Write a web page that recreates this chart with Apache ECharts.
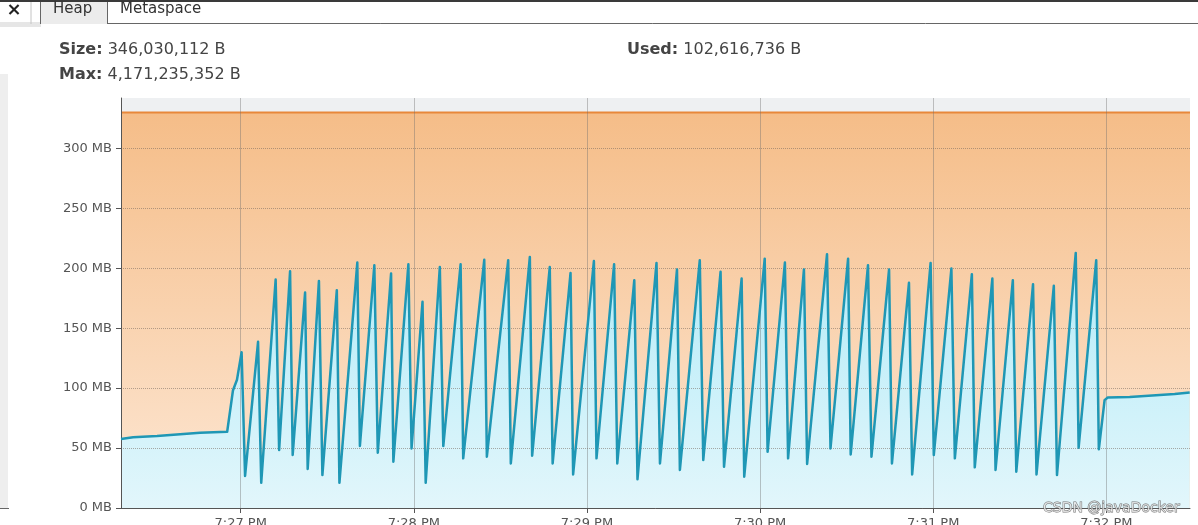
<!DOCTYPE html>
<html>
<head>
<meta charset="utf-8">
<script src="https://cdn.jsdelivr.net/npm/echarts@6/dist/echarts.min.js"></script>
<style>
  html, body { margin: 0; padding: 0; background: #ffffff; }
  #chart { width: 1198px; height: 525px; }
</style>
</head>
<body>
<div id="chart"></div>
<script>
// ---- Data (seconds after 7:26:00 PM, values in MB) ----
const timeSec = [18.5, 22.7, 31.0, 39.0, 45.9, 55.3, 57.3, 58.7, 60.3, 61.5, 66.0, 67.1,
  72.1, 73.3, 77.1, 78.0, 82.3, 83.2, 87.1, 88.3, 93.3, 94.2, 100.4, 101.3, 106.3, 107.5,
  112.1, 112.9, 118.1, 119.2, 123.0, 124.1, 129.0, 130.2, 136.2, 137.1, 144.4, 145.3,
  152.7, 153.6, 160.2, 161.0, 167.1, 168.1, 174.3, 175.2, 182.4, 183.3, 189.4, 190.5,
  196.4, 197.5, 204.1, 205.3, 211.2, 212.2, 219.1, 220.3, 226.3, 227.5, 233.6, 234.5,
  241.6, 242.6, 248.6, 249.7, 255.2, 256.3, 263.2, 264.4, 270.5, 271.4, 277.4, 278.6,
  284.7, 285.7, 291.6, 292.7, 299.1, 300.2, 306.3, 307.5, 313.4, 314.4, 320.5, 321.6,
  327.6, 328.8, 334.6, 335.8, 341.8, 342.9, 349.4, 350.4, 356.5, 357.4,
  359.4, 360.5, 368.1, 378.5, 383.7, 388.9];
const usedMB = [57.5, 59, 60, 61.5, 62.8, 63.6, 98, 107, 130, 26.7, 138.6, 21,
  190.6, 48.3, 197.5, 44.2, 179.7, 32.5, 189.4, 27.5, 181.7, 21, 204.7, 51.7, 202.5, 46.1,
  195.6, 38.6, 203.3, 49.7, 172, 21, 201, 51.7, 203.3, 41.4, 207, 42.8,
  206.7, 37.2, 209.4, 43.6, 201, 37.2, 196, 28, 206, 41.4, 203.3, 37.2,
  190, 23.9, 204.4, 37.2, 199, 31.7, 206.7, 40, 197, 34.4, 191.4, 26.1,
  208, 46.9, 204.7, 41.4, 199, 36.7, 211.7, 49.7, 208, 44.7, 202.5, 42.8,
  199, 37.2, 187.8, 28, 204.4, 44.2, 199.7, 41.4, 195, 33.9, 191.4, 31.7,
  190, 30.3, 186.7, 28, 185.3, 27.5, 212.8, 50.3, 206.7, 49,
  90, 92.2, 92.5, 94.2, 95, 96.4];
const sizeTimes = [18.5, 389];
const sizeMB = [330, 330];
const xTickSec = [60, 120, 180, 240, 300, 360];
const xTickLabels = ['7:27 PM', '7:28 PM', '7:29 PM', '7:30 PM', '7:31 PM', '7:32 PM'];
const yTickMB = [0, 50, 100, 150, 200, 250, 300];
const tabLabels = ['Heap', 'Metaspace'];
const sizeText = '346,030,112 B';
const maxText = '4,171,235,352 B';
const usedText = '102,616,736 B';

const usedData = timeSec.map((t, i) => [t, usedMB[i]]);
const sizeData = sizeTimes.map((t, i) => [t, sizeMB[i]]);
const FONT = '"DejaVu Sans", sans-serif';

const chart = echarts.init(document.getElementById('chart'));
chart.setOption({
  animation: false,
  backgroundColor: '#ffffff',
  grid: { left: 121, right: 8, top: 98, bottom: 17, containLabel: false, outerBoundsMode: 'none',
    show: true, backgroundColor: '#eef0f2', borderWidth: 0 },
  xAxis: {
    type: 'value', min: 18.5, max: 389, z: 3,
    axisLine: { show: true, lineStyle: { color: '#555', width: 1 } },
    axisTick: { show: true, customValues: xTickSec, length: 5, lineStyle: { color: '#555' } },
    axisLabel: {
      customValues: xTickSec, margin: 9, color: '#555', fontSize: 13, fontFamily: FONT,
      formatter: v => xTickLabels[xTickSec.indexOf(Math.round(v))] || ''
    },
    splitLine: { show: true, lineStyle: { color: 'rgba(110,110,110,0.4)', width: 1 } }
  },
  yAxis: {
    type: 'value', min: 0, max: 342, z: 3,
    axisLine: { show: true, lineStyle: { color: '#555', width: 1 } },
    axisTick: { show: true, customValues: yTickMB, length: 5, lineStyle: { color: '#555' } },
    axisLabel: { customValues: yTickMB, margin: 9, color: '#555', fontSize: 13, fontFamily: FONT, formatter: '{value} MB' },
    splitLine: { show: true, lineStyle: { color: 'rgba(120,105,95,0.55)', type: 'dotted', width: 1 } }
  },
  series: [
    {
      name: 'Size', type: 'line', data: sizeData, symbol: 'none', z: 2,
      lineStyle: { color: '#e8883a', width: 2 },
      areaStyle: { opacity: 1, color: new echarts.graphic.LinearGradient(0, 0, 0, 1, [
        { offset: 0, color: '#f5bd88' }, { offset: 1, color: '#fde7d4' }]) }
    },
    {
      name: 'Used area', type: 'line', data: usedData, symbol: 'none', z: 2,
      lineStyle: { width: 0 },
      areaStyle: { opacity: 1, color: new echarts.graphic.LinearGradient(0, 0, 0, 1, [
        { offset: 0, color: '#b3ebf8' }, { offset: 1, color: '#e2f6fb' }]) }
    },
    {
      name: 'Used', type: 'line', data: usedData, symbol: 'none', z: 4,
      lineStyle: { color: '#1f97b5', width: 2.5, join: 'round' }
    }
  ],
  graphic: [
    { type: 'rect', shape: { x: 0, y: 0, width: 1198, height: 2 }, style: { fill: '#3a3a3a' } },
    { type: 'rect', shape: { x: 41, y: 2, width: 66, height: 22 }, style: { fill: '#ececec' } },
    { type: 'rect', shape: { x: 0, y: 22, width: 41, height: 5 }, style: { fill: '#e6e6e6' } },
    { type: 'line', shape: { x1: 31, y1: 2, x2: 31, y2: 24 }, style: { stroke: '#c4c4c4', lineWidth: 1 } },
    { type: 'line', shape: { x1: 40.5, y1: 2, x2: 40.5, y2: 24 }, style: { stroke: '#666', lineWidth: 1 } },
    { type: 'line', shape: { x1: 107.5, y1: 2, x2: 107.5, y2: 24 }, style: { stroke: '#666', lineWidth: 1 } },
    { type: 'line', shape: { x1: 107.5, y1: 23.5, x2: 1198, y2: 23.5 }, style: { stroke: '#666', lineWidth: 1 } },
    { type: 'text', x: 14, y: 10, style: { text: '×', font: 'bold 18px ' + FONT, fill: '#222', align: 'center', verticalAlign: 'middle' } },
    { type: 'text', x: 53, y: 9, style: { text: tabLabels[0], font: '15px ' + FONT, fill: '#333', verticalAlign: 'middle' } },
    { type: 'text', x: 120, y: 9, style: { text: tabLabels[1], font: '15px ' + FONT, fill: '#333', verticalAlign: 'middle' } },
    { type: 'text', x: 59, y: 50, style: { text: '{b|Size:} ' + sizeText, font: '16px ' + FONT, fill: '#444', verticalAlign: 'middle',
      rich: { b: { fontWeight: 'bold', fontSize: 16, fontFamily: FONT, fill: '#444' } } } },
    { type: 'text', x: 59, y: 75, style: { text: '{b|Max:} ' + maxText, font: '16px ' + FONT, fill: '#444', verticalAlign: 'middle',
      rich: { b: { fontWeight: 'bold', fontSize: 16, fontFamily: FONT, fill: '#444' } } } },
    { type: 'text', x: 627, y: 50, style: { text: '{b|Used:} ' + usedText, font: '16px ' + FONT, fill: '#444', verticalAlign: 'middle',
      rich: { b: { fontWeight: 'bold', fontSize: 16, fontFamily: FONT, fill: '#444' } } } },
    { type: 'rect', shape: { x: 0, y: 74, width: 8, height: 434 }, style: { fill: '#eeeeee' } },
    { type: 'line', shape: { x1: 0, y1: 508.5, x2: 9, y2: 508.5 }, style: { stroke: '#666', lineWidth: 1 } },
    { type: 'text', x: 1043, y: 508, z: 100, style: { text: 'CSDN @javaDocker', font: '14px ' + FONT, fill: 'rgba(255,255,255,0.7)',
      stroke: 'rgba(90,90,90,0.85)', lineWidth: 1, verticalAlign: 'middle' } }
  ]
});
</script>
</body>
</html>
